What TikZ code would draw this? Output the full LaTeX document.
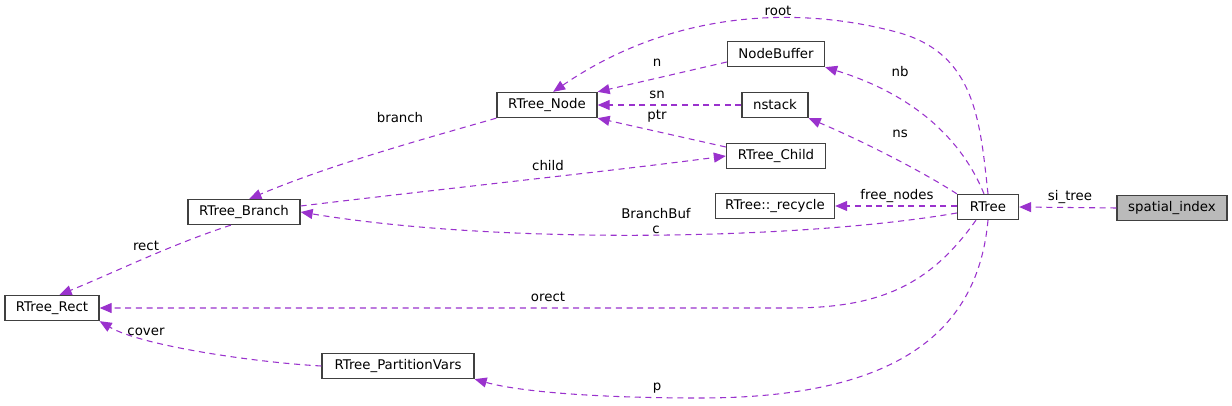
\documentclass[tikz,border=0pt]{standalone}
\usepackage{fontspec}
\setmainfont{DejaVu Sans}
\usetikzlibrary{arrows.meta}
\definecolor{edgepurple}{HTML}{9A32CD}
\tikzset{
  classbox/.style={draw=black!75, line width=1pt, font=\fontsize{10}{12}\selectfont, minimum height=18.75pt, inner sep=0pt},
  member/.style={draw=edgepurple, dash pattern=on 4.5pt off 3.5pt, line width=0.8pt, -{Triangle[length=9pt,width=7.5pt,fill=edgepurple]}},
  memlabel/.style={font=\fontsize{10}{11.5}\selectfont, inner sep=0pt, align=center}
}
\begin{document}
\begin{tikzpicture}[x=0.75pt,y=-0.75pt]
% Fix the page to the size of the picture
\useasboundingbox (0,0) rectangle (1232,406);

% Draw the class boxes
\node[classbox, fill=black!27, minimum width=82.5pt] (spatialindex) at (1172,208) {spatial\_index};
\node[classbox, minimum width=45.75pt] (rtree) at (988,207) {RTree};
\node[classbox, minimum width=89.25pt] (recycle) at (775,206) {RTree::\_recycle};
\node[classbox, minimum width=72.75pt] (nodebuffer) at (776,54) {NodeBuffer};
\node[classbox, minimum width=49.5pt] (nstack) at (775,105) {nstack};
\node[classbox, minimum width=74.25pt] (rtreechild) at (776,156) {RTree\_Child};
\node[classbox, minimum width=75pt] (rtreenode) at (547,105) {RTree\_Node};
\node[classbox, minimum width=84pt] (rtreebranch) at (244,212) {RTree\_Branch};
\node[classbox, minimum width=70.5pt] (rtreerect) at (52,308) {RTree\_Rect};
\node[classbox, minimum width=114pt] (partvars) at (398,366) {RTree\_PartitionVars};

% Draw the member connectors
\draw[member] (spatialindex.west) -- (rtree.east);
\draw[member] (rtree.west |- recycle.east) -- (recycle.east);
\draw[member] (rtree.north) .. controls (980,120) and (975,55) .. (900,33)
  .. controls (810,8) and (680,5) .. (rtreenode.65);
\draw[member] (rtree.north) ++(-4,0) .. controls (962,140) and (915,95) .. (nodebuffer.south east);
\draw[member] (rtree.north west) .. controls (920,170) and (860,140) .. (nstack.south east);
\draw[member] (nodebuffer.west) ++(0,8) -- (rtreenode.north east);
\draw[member] (nstack.west) -- (rtreenode.east);
\draw[member] (rtreechild.west) ++(0,-9) -- (rtreenode.south east);
\draw[member] (rtreebranch.east) ++(0,-6) .. controls (450,188) and (620,170) .. (rtreechild.west);
\draw[member] (rtreenode.south west) .. controls (420,140) and (330,165) .. (rtreebranch.68);
\draw[member] (rtree.west) ++(0,6) .. controls (800,240) and (500,245) .. (rtreebranch.east);
\draw[member] (rtreebranch.225) .. controls (170,245) and (120,270) .. (rtreerect.60);
\draw[member] (rtree.south) ++(-12,0) .. controls (930,285) and (880,308) .. (790,308) -- (rtreerect.east);
\draw[member] (partvars.west) .. controls (250,362) and (140,345) .. (rtreerect.south east);
\draw[member] (rtree.south) .. controls (978,330) and (900,398) .. (700,398)
  .. controls (600,398) and (520,392) .. (partvars.south east);

% Draw the member names
\node[memlabel] (lblsitree) at (1070,197) {si\_tree};
\node[memlabel] (lblfree) at (897,196) {free\_nodes};
\node[memlabel] (lblroot) at (778,11) {root};
\node[memlabel] (lblnb) at (900,72) {nb};
\node[memlabel] (lblns) at (900,134) {ns};
\node[memlabel] (lbln) at (657,63) {n};
\node[memlabel] (lblsn) at (657,95) {sn};
\node[memlabel] (lblptr) at (657,116) {ptr};
\node[memlabel] (lblchild) at (548,166) {child};
\node[memlabel] (lblbranch) at (400,118) {branch};
\node[memlabel] (lblbuf) at (656,221) {BranchBuf\\c};
\node[memlabel] (lblrect) at (146,246) {rect};
\node[memlabel] (lblorect) at (548,297) {orect};
\node[memlabel] (lblcover) at (146,332) {cover};
\node[memlabel] (lblp) at (657,388) {p};
\end{tikzpicture}
\end{document}
